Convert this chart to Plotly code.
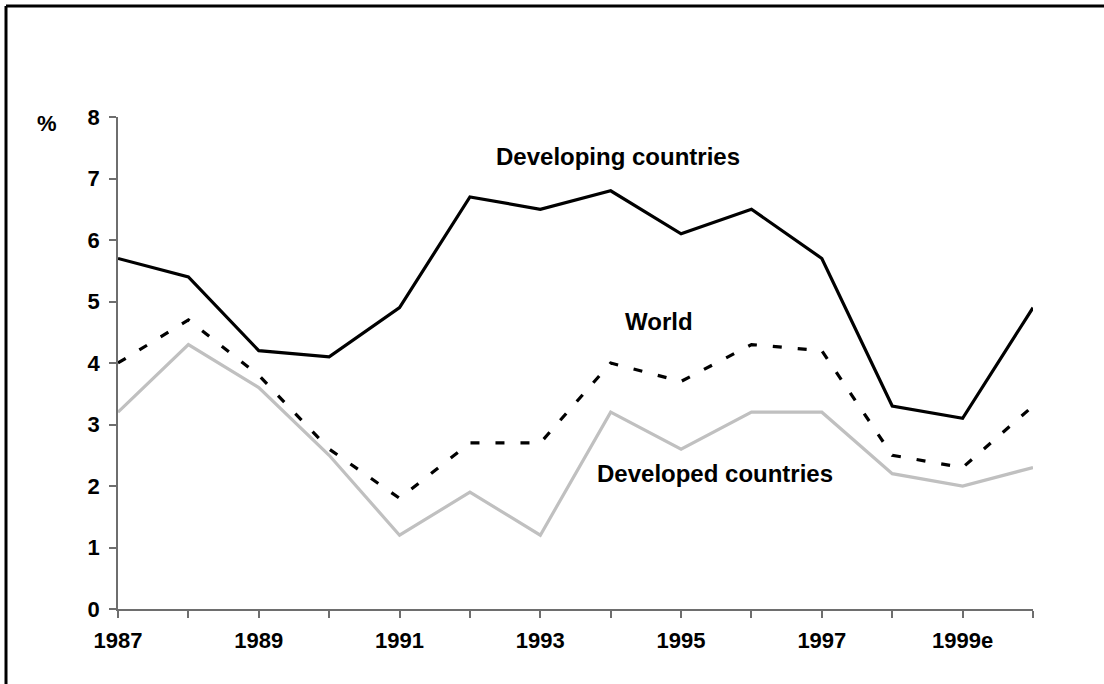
import plotly.graph_objects as go

years = list(range(1987, 2001))
developing = [5.7, 5.4, 4.2, 4.1, 4.9, 6.7, 6.5, 6.8, 6.1, 6.5, 5.7, 3.3, 3.1, 4.9]
world = [4.0, 4.7, 3.8, 2.6, 1.8, 2.7, 2.7, 4.0, 3.7, 4.3, 4.2, 2.5, 2.3, 3.3]
developed = [3.2, 4.3, 3.6, 2.5, 1.2, 1.9, 1.2, 3.2, 2.6, 3.2, 3.2, 2.2, 2.0, 2.3]
x_ticktext = ["1987", "", "1989", "", "1991", "", "1993", "", "1995", "", "1997", "", "1999e", ""]
y_ticks = [0, 1, 2, 3, 4, 5, 6, 7, 8]

FONT = "Arial, Liberation Sans, sans-serif"

fig = go.Figure()
fig.add_trace(go.Scatter(x=years, y=developed, mode="lines",
                         line=dict(color="#c0c0c0", width=3.2), name="Developed countries"))
fig.add_trace(go.Scatter(x=years, y=world, mode="lines",
                         line=dict(color="black", width=3.2, dash="9px,16px"), name="World"))
fig.add_trace(go.Scatter(x=years, y=developing, mode="lines",
                         line=dict(color="black", width=3.2), name="Developing countries"))

axis_col = "#6e6e6e"
fig.update_layout(
    width=1104, height=684,
    margin=dict(l=118, r=71, t=117, b=75),
    paper_bgcolor="white", plot_bgcolor="white",
    showlegend=False,
    font=dict(family=FONT, color="black"),
    xaxis=dict(range=[1987, 2000], tickvals=years, ticktext=x_ticktext,
               showgrid=False, zeroline=False, showline=True, linecolor=axis_col, linewidth=1.5,
               ticks="outside", ticklen=7, tickcolor=axis_col, tickwidth=1.5,
               tickfont=dict(family=FONT, size=22, color="black", weight="bold"),
               ticklabelstandoff=4),
    yaxis=dict(range=[0, 8], tickvals=y_ticks,
               showgrid=False, zeroline=False, showline=True, linecolor=axis_col, linewidth=1.5,
               ticks="outside", ticklen=7, tickcolor=axis_col, tickwidth=1.5,
               tickfont=dict(family=FONT, size=22, color="black", weight="bold"),
               ticklabelstandoff=5),
)

ann_font = dict(family=FONT, size=24, color="black", weight="bold")
fig.add_annotation(x=1994.1, y=7.35, text="Developing countries", showarrow=False, font=ann_font)
fig.add_annotation(x=1994.68, y=4.67, text="World", showarrow=False, font=ann_font)
fig.add_annotation(x=1995.48, y=2.2, text="Developed countries", showarrow=False, font=ann_font)
fig.add_annotation(xref="paper", yref="paper", x=-0.0776, y=0.9858, text="%", showarrow=False,
                   xanchor="center", yanchor="middle",
                   font=dict(family=FONT, size=22, color="black", weight="bold"))

# outer frame (top and left edges)
fig.add_shape(type="line", xref="paper", yref="paper", x0=-0.1224, y0=1.2256, x1=1.0776, y1=1.2256,
              line=dict(color="black", width=3))
fig.add_shape(type="line", xref="paper", yref="paper", x0=-0.1224, y0=1.2256, x1=-0.1224, y1=-0.153,
              line=dict(color="black", width=3))

fig.write_html("out.html", config={"displayModeBar": False},
               post_script="document.body.style.margin='0';document.body.style.overflow='hidden';")
